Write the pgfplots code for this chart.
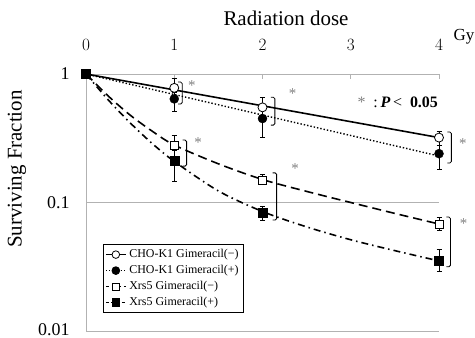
\documentclass[border=0pt]{standalone}
\usepackage{pgfplots}
\pgfplotsset{compat=1.18}
\usepackage{fontspec}
\setmainfont{Liberation Serif}
\newcommand{\brk}[3]{\draw[black, line width=0.8pt, rounded corners=1.5bp] ([xshift=-4bp]axis cs:#1,#2) -- (axis cs:#1,#2) -- (axis cs:#1,#3) -- ([xshift=-4bp]axis cs:#1,#3);}
\newcommand{\sigast}[2]{\node[text=gray, font=\fontsize{15}{15}\selectfont] at (axis cs:#1,#2) {*};}
\pgfplotsset{eb/.style={
  error bars/y dir=both, error bars/y explicit,
  error bars/error bar style={black, line width=0.8pt, solid},
  error bars/error mark options={rotate=90, mark size=2.5bp, line width=0.8pt, black}}}
\begin{document}
\begin{tikzpicture}
\path[use as bounding box] (-86bp,-7bp) rectangle (389bp,331bp);
\begin{axis}[
  at={(0,0)}, anchor=south west,
  scale only axis, width=353bp, height=257bp,
  xmin=0, xmax=4, ymode=log, ymin=0.01, ymax=1,
  axis x line*=top, axis y line*=left,
  axis line style={gray!60, line width=0.8pt, -},
  xtick={0,1,2,3,4},
  ytick={0.01,0.1,1},
  yticklabels={\raisebox{3bp}{0.01},0.1,1},
  ymajorgrids, major grid style={gray!60, line width=0.8pt},
  tick align=inside,
  xtick style={gray!60, line width=0.8pt},
  major tick length=5bp,
  ytick style={draw=none},
  xticklabel style={font=\fontsize{19}{19}\selectfont, yshift=20bp},
  yticklabel style={font=\fontsize{18}{18}\selectfont, xshift=-13bp, inner ysep=0pt},
  clip=false,
  legend style={at={(axis description cs:0.048,0.070)}, anchor=south west,
    draw=black, line width=0.8pt, font=\fontsize{12}{14}\selectfont,
    inner xsep=2bp, inner ysep=4bp,
    nodes={inner xsep=3bp, inner ysep=0pt, text height=9bp, text depth=3bp},
    row sep=4bp, cells={anchor=west}},
  legend image code/.code={\draw[mark repeat=2,mark phase=2,#1] plot coordinates {(0bp,0bp) (10bp,0bp) (20bp,0bp)};},
]
% fitted curves
\addplot[black, line width=1.6pt, forget plot] coordinates {(0,1) (4,0.32)};
\addplot[black, line width=1.4pt, dotted, forget plot] coordinates {(0,1) (4,0.23)};
\addplot[black, line width=1.6pt, dash pattern=on 9bp off 5bp, smooth, forget plot] coordinates {
 (0,1) (0.25,0.676) (0.5,0.479) (0.75,0.359) (1,0.28) (1.5,0.2) (2,0.151) (2.5,0.122) (3,0.1) (3.5,0.0822) (4,0.068)};
\addplot[black, line width=1.6pt, dash pattern=on 7bp off 4bp on 1.5bp off 4bp, smooth, forget plot] coordinates {
 (0,1) (0.25,0.631) (0.5,0.417) (0.75,0.288) (1,0.209) (1.5,0.123) (2,0.0851) (2.5,0.0646) (3,0.0513) (3.5,0.0422) (4,0.0351)};
% data points
\addplot[only marks, mark=*, mark options={fill=white, draw=black, line width=0.8pt}, mark size=4.5bp, forget plot, eb] coordinates {
 (0,1) (1,0.78) += (0,0.15) -= (0,0.12) (2,0.55) += (0,0.11) -= (0,0.1) (4,0.32) += (0,0.04) -= (0,0.04)};
\addplot[only marks, mark=*, mark options={fill=black, draw=black}, mark size=4.5bp, forget plot, eb] coordinates {
 (0,1) (1,0.64) += (0,0.08) -= (0,0.125) (2,0.45) += (0,0.13) -= (0,0.13) (4,0.24) += (0,0.04) -= (0,0.06)};
\addplot[only marks, mark=square*, mark options={fill=white, draw=black, line width=0.6pt}, mark size=4bp, forget plot, eb] coordinates {
 (0,1) (1,0.28) += (0,0.055) -= (0,0.05) (2,0.15) += (0,0.014) -= (0,0.01) (4,0.068) += (0,0.008) -= (0,0.007)};
\addplot[only marks, mark=square*, mark options={fill=black, draw=black}, mark size=4.5bp, forget plot, eb] coordinates {
 (0,1) (1,0.21) += (0,0.046) -= (0,0.063) (2,0.084) += (0,0.01) -= (0,0.011) (4,0.035) += (0,0.008) -= (0,0.006)};
% legend
\addlegendimage{black, line width=1pt, mark=*, mark options={fill=white, line width=0.8pt}, mark size=3.8bp}
\addlegendentry{CHO-K1 Gimeracil(−)}
\addlegendimage{black, line width=1pt, dotted, mark=*, mark options={solid, fill=black}, mark size=3.8bp}
\addlegendentry{CHO-K1 Gimeracil(+)}
\addlegendimage{black, line width=1pt, dashed, mark=square*, mark options={solid, fill=white, line width=0.6pt}, mark size=3.5bp}
\addlegendentry{Xrs5 Gimeracil(−)}
\addlegendimage{black, line width=1pt, dash dot, mark=square*, mark options={solid, fill=black}, mark size=3.8bp}
\addlegendentry{Xrs5 Gimeracil(+)}
% significance brackets
\brk{1.09}{0.866}{0.584}
\sigast{1.2}{0.81}
\brk{2.14}{0.66}{0.40}
\sigast{2.34}{0.71}
\brk{4.14}{0.354}{0.203}
\sigast{4.27}{0.285}
\brk{1.14}{0.306}{0.192}
\sigast{1.27}{0.29}
\brk{2.16}{0.17}{0.073}
\sigast{2.37}{0.182}
\brk{4.13}{0.077}{0.0316}
\sigast{4.28}{0.068}
\node[anchor=east, font=\fontsize{16}{16}\selectfont, inner sep=0pt] at (axis cs:3.99,0.605) {\textcolor{gray}{*}\enspace:\,\textbf{\textit{P}}\,<\enspace\textbf{0.05}};
\end{axis}
\node[font=\fontsize{21}{21}\selectfont] at (200bp,313bp) {Radiation dose};
\node[font=\fontsize{17}{17}\selectfont] at (378bp,294bp) {Gy};
\node[font=\fontsize{21}{21}\selectfont, rotate=90] at (-69bp,162bp) {Surviving Fraction};
\end{tikzpicture}
\end{document}
